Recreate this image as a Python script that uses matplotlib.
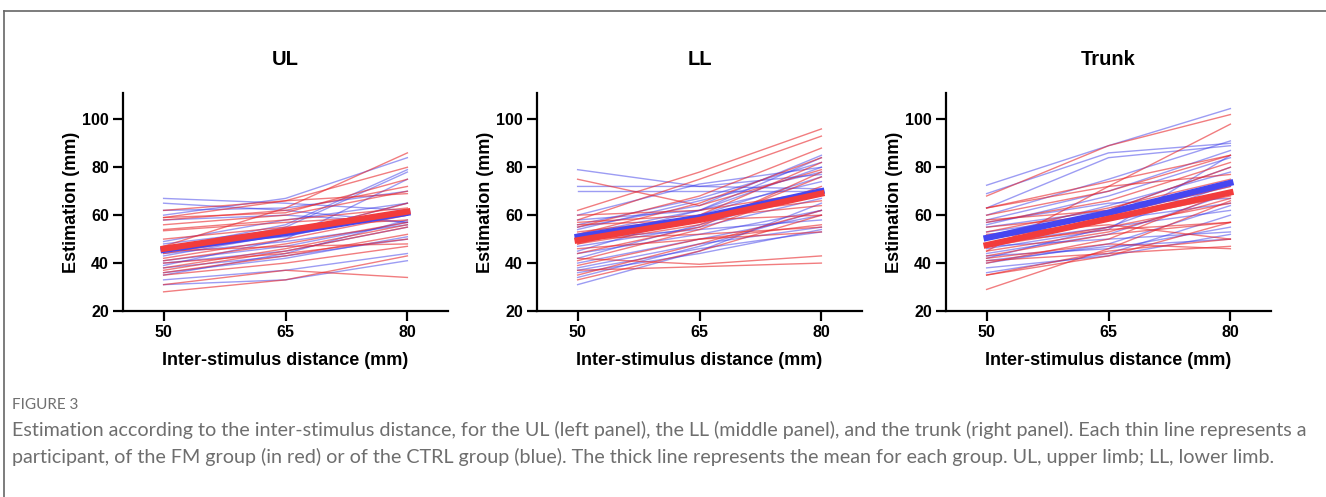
import matplotlib
matplotlib.use("Agg")
import matplotlib.pyplot as plt
from matplotlib.lines import Line2D

distances = [50, 65, 80]

# individual participants, estimation (mm) at 50 / 65 / 80 mm
ul_fm = [
    [28, 33, 43], [31, 37, 34], [35, 40, 47], [36, 43, 52], [38, 46, 56],
    [41, 48, 57], [42, 50, 60], [44, 52, 65], [46, 53, 62], [53.5, 57, 60],
    [54, 58, 63], [56, 60, 70], [58, 62, 72], [59, 61, 75], [59, 66, 80],
    [62, 66, 69], [47, 63, 86], [40, 44, 50], [37, 45, 55], [45, 47, 48],
    [50, 55, 58],
]
ul_ctrl = [
    [67, 65, 62], [65, 62, 57], [31, 33, 41], [33, 37, 44], [36, 42, 51],
    [38, 43, 50], [40, 45, 55], [41, 47, 57], [43, 52, 65], [45, 55, 78],
    [46, 56, 79], [48, 54, 60], [49, 58, 65], [60, 67, 84], [58, 60, 57],
    [39, 50, 75], [44, 49, 56], [35, 44, 58], [62, 63, 70], [47, 51, 62],
]
ll_fm = [
    [75, 64, 79], [62, 78, 96], [58, 75, 93], [55, 68, 88], [52, 65, 84],
    [48, 60, 82], [44, 55, 78], [42, 39.5, 43], [37, 38.5, 40], [33, 45, 60],
    [35, 48, 62], [39, 50, 56], [46, 50, 53], [50, 52, 55], [56, 58, 60],
    [57, 60, 66], [60, 62, 70], [41, 54, 72], [53, 59, 64], [48, 56, 76],
]
ll_ctrl = [
    [79, 72, 77], [72, 72, 71], [70, 70, 70], [31, 45, 65], [34, 47, 62],
    [37, 46, 53], [38, 48, 55], [40, 50, 60], [42, 56, 70], [45, 60, 76],
    [47, 55, 67], [50, 54, 58], [52, 62, 80], [55, 64, 85], [56, 67, 82],
    [58, 62, 74], [60, 73, 80], [44, 52, 62], [36, 44, 54], [49, 62, 84],
    [54, 66, 78],
]
trunk_fm = [
    [68, 89, 102], [63, 74, 85], [45, 72, 98], [29, 46, 66], [35, 43, 57],
    [35, 45, 50], [41, 44, 47], [42, 48, 46], [43, 52, 57], [47, 55, 65],
    [50, 58, 68], [52, 56, 50], [55, 60, 72], [58, 62, 80], [60, 70, 85],
    [63, 72, 77], [45, 53, 67], [40, 50, 70], [57, 66, 82], [53, 63, 75],
    [48, 54, 57],
]
trunk_ctrl = [
    [72.5, 89, 104.5], [69, 86, 90], [63, 84, 89], [60, 75, 91], [58, 70, 87],
    [56, 68, 84], [55, 62, 80], [53, 60, 72], [50, 58, 65], [48, 55, 62],
    [44, 52, 69], [43, 46, 55], [41, 47, 50], [38, 43, 52], [36, 44, 60],
    [40, 48, 64], [46, 54, 85], [51, 64, 78], [42, 55, 73], [47, 50, 53],
    [57, 65, 67],
]

# group means
ul_fm_mean = [46, 53.5, 61.5]
ul_ctrl_mean = [45.5, 52.5, 61]
ll_fm_mean = [49.5, 58, 69]
ll_ctrl_mean = [51, 59, 70]
trunk_fm_mean = [47.5, 58.5, 69.5]
trunk_ctrl_mean = [50.5, 61, 73.5]

titles = ["UL", "LL", "Trunk"]
panels = [
    (ul_fm, ul_ctrl, ul_fm_mean, ul_ctrl_mean),
    (ll_fm, ll_ctrl, ll_fm_mean, ll_ctrl_mean),
    (trunk_fm, trunk_ctrl, trunk_fm_mean, trunk_ctrl_mean),
]

RED = "#e8262a"
BLUE = "#3a3ae8"

plt.rcParams["font.family"] = ["Liberation Sans", "DejaVu Sans"]

W, H = 1326, 497
fig = plt.figure(figsize=(W / 100, H / 100), dpi=100)

lefts = [123, 537, 946]
for left, title, (fm, ctrl, fm_m, ctrl_m) in zip(lefts, titles, panels):
    ax = fig.add_axes([left / W, 186 / H, 325 / W, 218 / H])
    for p in ctrl:
        ax.plot(distances, p, color=BLUE, lw=1.0, alpha=0.5)
    for p in fm:
        ax.plot(distances, p, color=RED, lw=1.0, alpha=0.6)
    ax.plot(distances, ctrl_m, color="#4646f0", lw=4.5)
    ax.plot(distances, fm_m, color="#f23c3c", lw=4.5)

    ax.set_xlim(45, 85)
    ax.set_ylim(20, 111)
    ax.set_xticks(distances)
    ax.set_yticks([20, 40, 60, 80, 100])
    for s in ["top", "right"]:
        ax.spines[s].set_visible(False)
    for s in ["left", "bottom"]:
        ax.spines[s].set_linewidth(1.6)
    ax.tick_params(width=1.6, length=7, labelsize=11.5, pad=3)
    for lab in ax.get_xticklabels() + ax.get_yticklabels():
        lab.set_fontweight("bold")
    ax.set_title(title, fontsize=14.5, fontweight="bold", pad=20)
    ax.set_xlabel("Inter-stimulus distance (mm)", fontsize=13, fontweight="bold", labelpad=9)
    ax.set_ylabel("Estimation (mm)", fontsize=13, fontweight="bold", labelpad=2)

# frame around the figure (top and left edges)
fig.add_artist(Line2D([4 / W, 1], [1 - 11 / H, 1 - 11 / H], color="#666666", lw=1.2))
fig.add_artist(Line2D([4 / W, 4 / W], [0, 1 - 11 / H], color="#666666", lw=1.2))

cap_font = ["Lato", "DejaVu Sans"]
fig.text(12 / W, 1 - 405 / H, "FIGURE 3", fontsize=11, color="#707070",
         family=cap_font, va="center")
fig.text(12 / W, 1 - 430 / H,
         "Estimation according to the inter-stimulus distance, for the UL (left panel), the LL (middle panel), "
         "and the trunk (right panel). Each thin line represents a",
         fontsize=14.2, color="#6e6e6e", family=cap_font, va="center")
fig.text(12 / W, 1 - 457 / H,
         "participant, of the FM group (in red) or of the CTRL group (blue). The thick line represents the mean "
         "for each group. UL, upper limb; LL, lower limb.",
         fontsize=14.2, color="#6e6e6e", family=cap_font, va="center")

fig.savefig("out.png", dpi=100)
